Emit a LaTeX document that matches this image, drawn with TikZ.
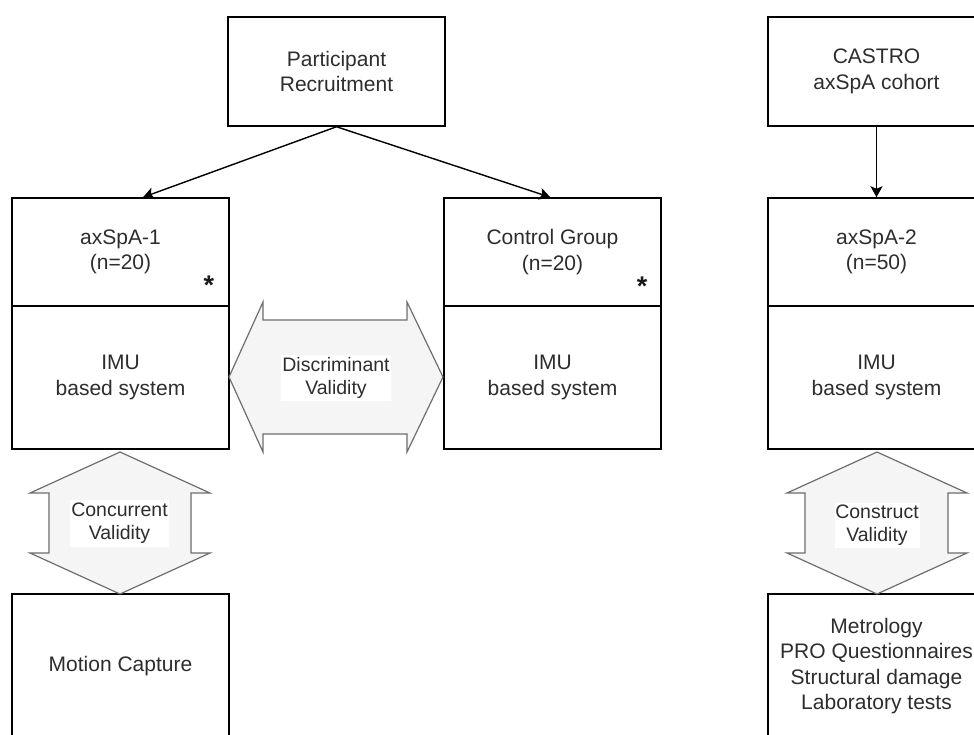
\documentclass[tikz,border=0pt]{standalone}
\usepackage{fontspec}
\setmainfont{Liberation Sans}
\usetikzlibrary{arrows.meta,calc}
\definecolor{txt}{RGB}{45,45,45}
\definecolor{afill}{RGB}{245,245,245}
\definecolor{aline}{RGB}{110,110,110}
\begin{document}
\begin{tikzpicture}[x=1pt,y=-1pt,
  box/.style={draw=black,line width=1.5pt,minimum width=217pt,inner sep=0pt,align=center,text=txt,
     font=\fontsize{21}{25.5}\selectfont},
  vlabel/.style={fill=white,inner sep=0pt,align=center,text=txt,font=\fontsize{19.5}{23}\selectfont},
  conn/.style={line width=1.4pt,-{Stealth[length=11pt,width=12pt,inset=2.5pt]}},
  dbl/.style={fill=afill,draw=aline,line width=1.2pt,line join=miter},
  star/.style={font=\fontsize{27}{27}\selectfont\bfseries,text=black!90,inner sep=0pt,anchor=base}]
\path[use as bounding box,clip] (0,0) rectangle (974,734);
\fill[white] (0,0) rectangle (974,734);

% boxes
\node[box,minimum height=109pt] (pr) at (336.5,71.5) {Participant\\Recruitment};
\node[box,minimum height=108pt] (a1) at (120.5,252) {axSpA-1\\(n=20)};
\node[box,minimum height=143pt] (a1i) at (120.5,377.5) {IMU\\based system};
\node[box,minimum height=108pt] (cg) at (552.5,252) {Control Group\\(n=20)};
\node[box,minimum height=143pt] (cgi) at (552.5,377.5) {IMU\\based system};
\node[box,minimum height=144pt] (mc) at (120.5,666) {Motion Capture};

\node[box,minimum height=109pt] (ca) at (876.5,71.5) {CASTRO\\axSpA cohort};
\node[box,minimum height=108pt] (a2) at (876.5,252) {axSpA-2\\(n=50)};
\node[box,minimum height=143pt] (a2i) at (876.5,377.5) {IMU\\based system};
\node[box,minimum height=144pt] (me) at (876.5,666) {Metrology\\PRO Questionnaires\\Structural damage\\Laboratory tests};

% asterisks
\node[star] (s1) at (209,294) {*};
\node[star] (s2) at (642,295) {*};

% connectors
\draw[conn] (pr.south) -- ($(a1.north west)!0.603!(a1.north east)$);
\draw[conn] (pr.south) -- ($(cg.north west)!0.49!(cg.north east)$);
\draw[conn] (ca.south) -- (a2.north);

% horizontal double arrow (discriminant)
\draw[dbl] (229,377) -- (263,302) -- (263,320) -- (407,320) -- (407,302) -- (443,377)
  -- (407,452) -- (407,434) -- (263,434) -- (263,452) -- cycle;
\node[vlabel,minimum width=110pt,minimum height=46pt] (dv) at (336,378) {Discriminant\\Validity};

% vertical double arrow (concurrent)
\draw[dbl] (120,452) -- (210,493) -- (191,493) -- (191,553) -- (210,553) -- (120,594)
  -- (30,553) -- (49,553) -- (49,493) -- (30,493) -- cycle;
\node[vlabel,minimum width=99pt,minimum height=47pt] (cv) at (119.5,523.5) {Concurrent\\Validity};

% vertical double arrow (construct)
\draw[dbl] (877,452) -- (967,493) -- (948,493) -- (948,553) -- (967,553) -- (877,594)
  -- (787,553) -- (805,553) -- (805,493) -- (787,493) -- cycle;
\node[vlabel,minimum width=85pt,minimum height=45pt] (kv) at (877,525) {Construct\\Validity};
\end{tikzpicture}
\end{document}
